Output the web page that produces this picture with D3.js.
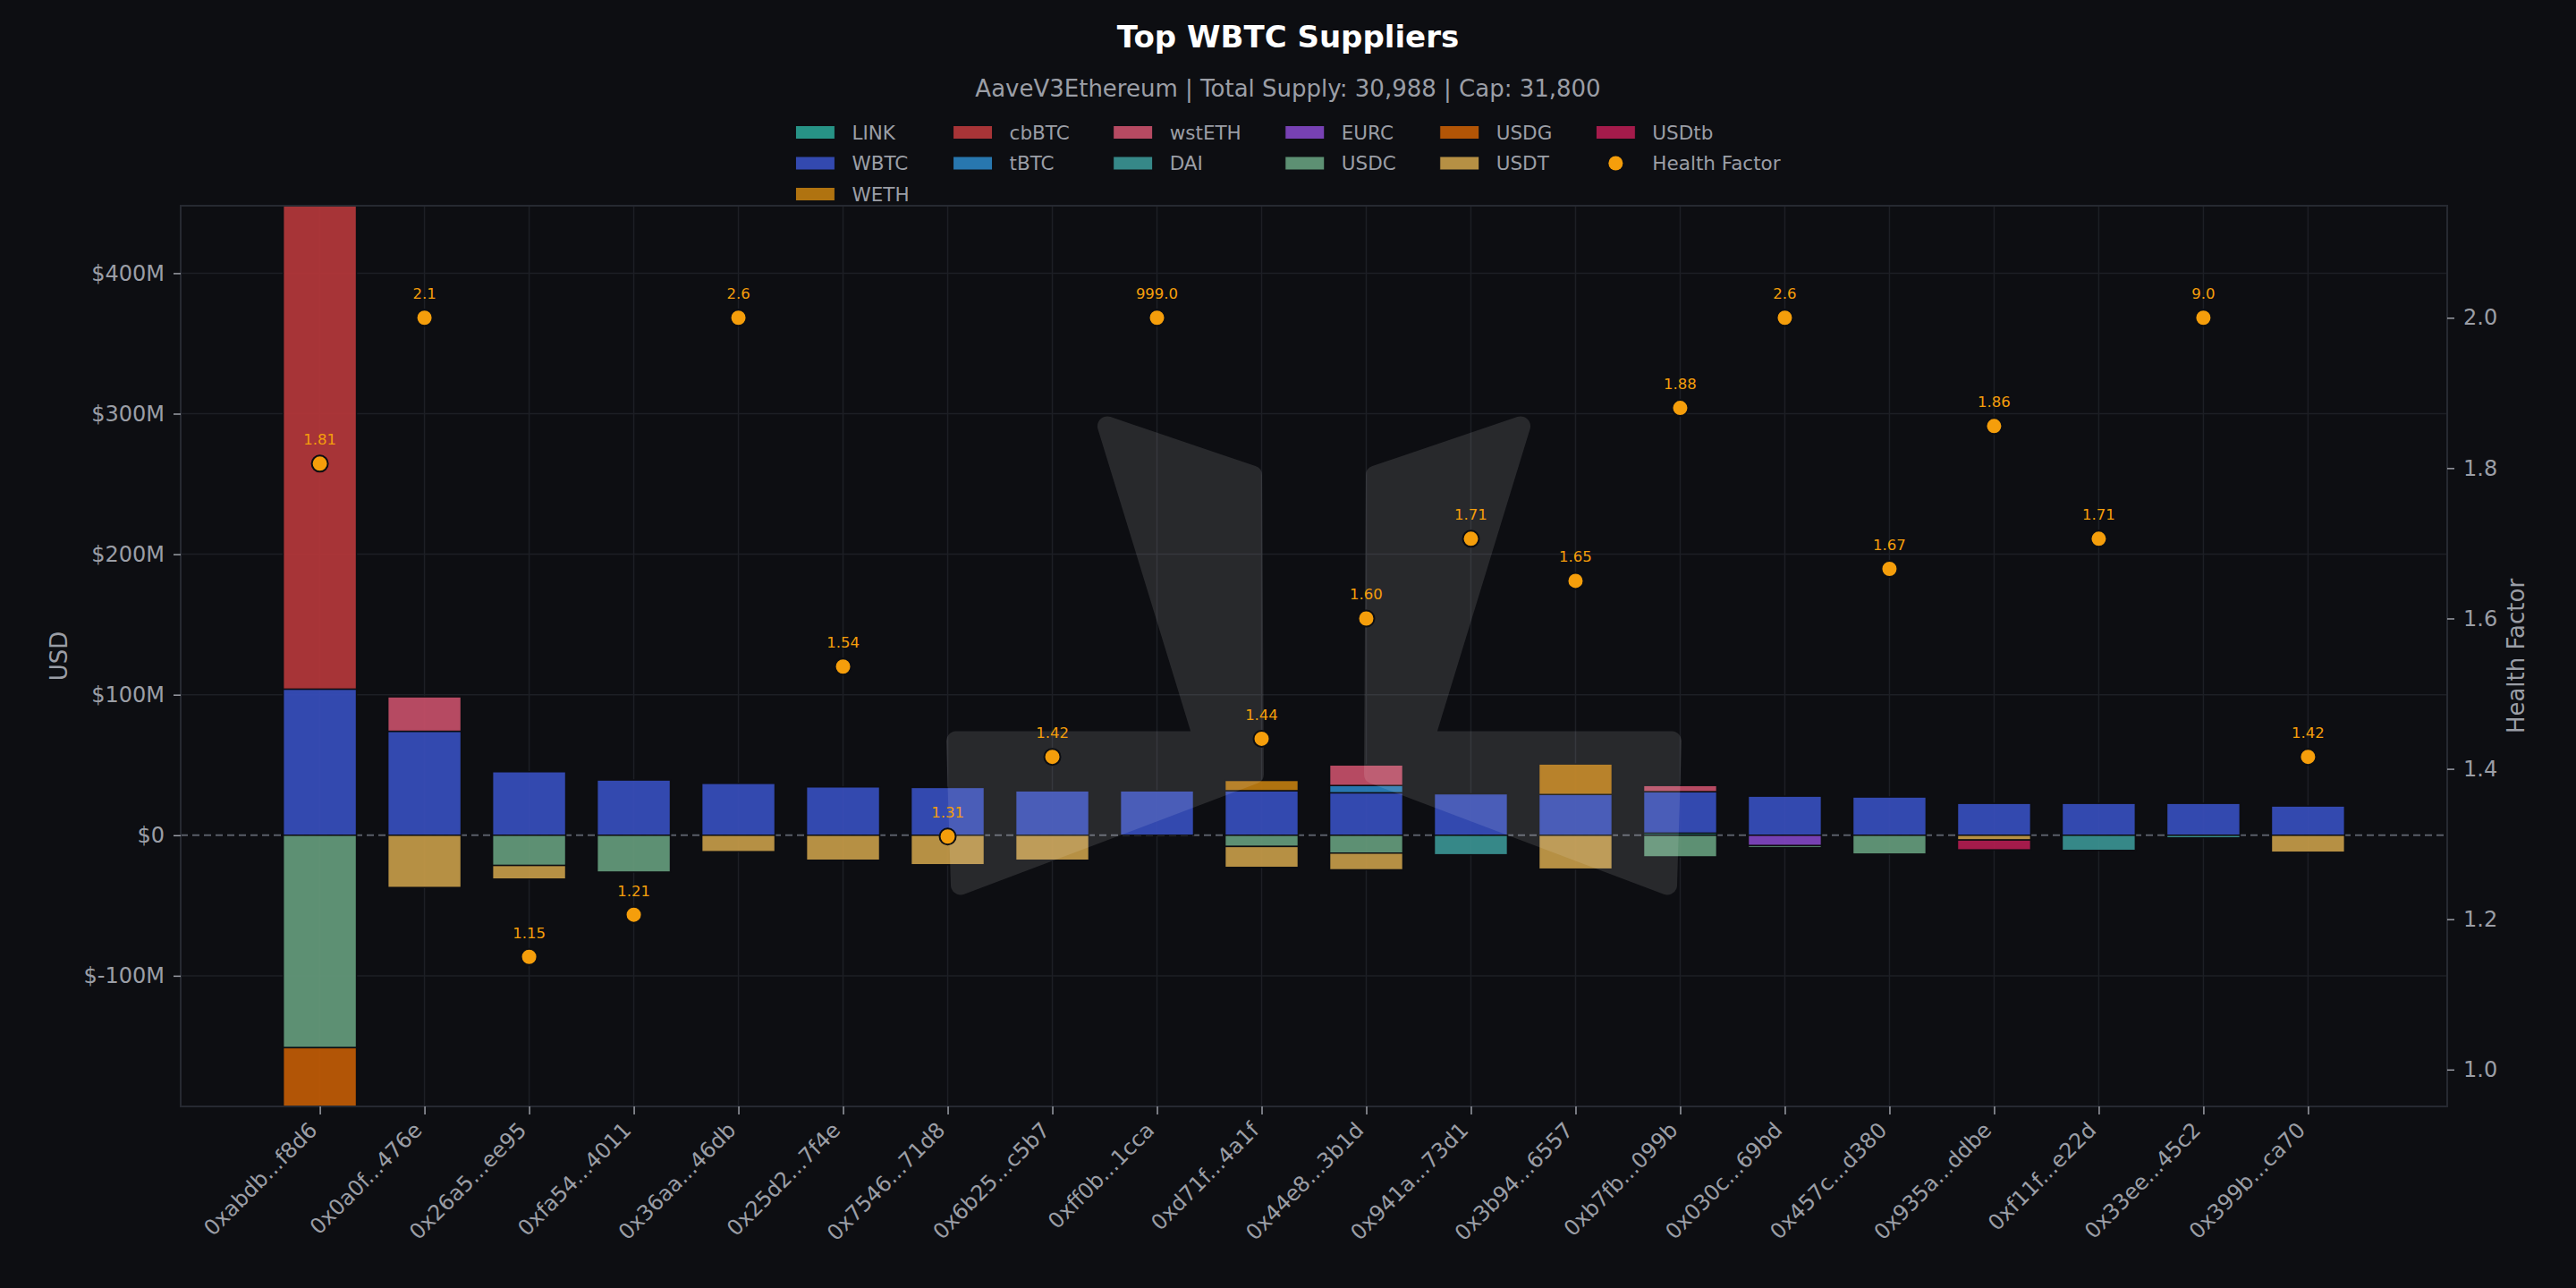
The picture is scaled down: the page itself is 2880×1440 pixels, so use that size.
<!DOCTYPE html>
<html>
<head>
<meta charset="utf-8">
<script src="https://cdn.jsdelivr.net/npm/d3@7"></script>
<style>
  body { margin: 0; background: #0d0e12; }
  text { font-family: "DejaVu Sans", sans-serif; }
</style>
</head>
<body>
<script>
// data (USD in millions, borrows negative)
const suppliers = ["0xabdb...f8d6", "0x0a0f...476e", "0x26a5...ee95", "0xfa54...4011", "0x36aa...46db",
  "0x25d2...7f4e", "0x7546...71d8", "0x6b25...c5b7", "0xff0b...1cca", "0xd71f...4a1f",
  "0x44e8...3b1d", "0x941a...73d1", "0x3b94...6557", "0xb7fb...099b", "0x030c...69bd",
  "0x457c...d380", "0x935a...ddbe", "0xf11f...e22d", "0x33ee...45c2", "0x399b...ca70"]

const assets = ["LINK", "WBTC", "WETH", "cbBTC", "tBTC", "wstETH", "DAI", "EURC", "USDC", "USDG", "USDT", "USDtb"]
const assetColors = ["#2a9d8f", "#374dbb", "#bd7b10", "#b4373a", "#2b7fbb", "#c44f68",
  "#3a9191", "#8045c0", "#649a7b", "#c05a05", "#c49a48", "#b01c50"]

const LINK   = [0, 0, 0, 0, 0, 0, 0, 0, 0, 0, 0, 0, 0, 1.5, 0, 0, 0, 0, 0, 0]
const WBTC   = [104, 74, 45.2, 39.3, 36.9, 34.4, 34, 31.6, 31.6, 31.7, 30.2, 29.5, 29, 29.5, 27.8, 27.2, 22.7, 22.7, 22.7, 20.8]
const WETH   = [0, 0, 0, 0, 0, 0, 0, 0, 0, 7.3, 0, 0, 21.7, 0, 0, 0, 0, 0, 0, 0]
const cbBTC  = [346, 0, 0, 0, 0, 0, 0, 0, 0, 0, 0, 0, 0, 0, 0, 0, 0, 0, 0, 0]
const tBTC   = [0, 0, 0, 0, 0, 0, 0, 0, 0, 0, 5.2, 0, 0, 0, 0, 0, 0, 0, 0, 0]
const wstETH = [0, 24.5, 0, 0, 0, 0, 0, 0, 0, 0, 14.6, 0, 0, 4.4, 0, 0, 0, 0, 0, 0]
const DAI    = [0, 0, 0, 0, 0, 0, 0, 0, 0, 0, 0, -13.9, 0, 0, 0, 0, 0, -10.8, -1.9, 0]
const EURC   = [0, 0, 0, 0, 0, 0, 0, 0, 0, 0, 0, 0, 0, 0, -7.4, 0, 0, 0, 0, 0]
const USDC   = [-151.2, 0, -21.5, -26.2, 0, 0, 0, 0, 0, -8, -12.7, 0, 0, -15.4, -1.5, -13.4, 0, 0, 0, 0]
const USDG   = [-45, 0, 0, 0, 0, 0, 0, 0, 0, 0, 0, 0, 0, 0, 0, 0, 0, 0, 0, 0]
const USDT   = [0, -37.2, -9.7, 0, -11.7, -17.8, -21, -17.8, 0, -14.9, -11.9, 0, -24.1, 0, 0, 0, -3.4, 0, 0, -12.1]
const USDtb  = [0, 0, 0, 0, 0, 0, 0, 0, 0, 0, 0, 0, 0, 0, 0, 0, -7, 0, 0, 0]

const healthFactor = [1.806, 2.1, 1.15, 1.206, 2.6, 1.536, 1.31, 1.416, 999.0, 1.44,
  1.60, 1.706, 1.65, 1.88, 2.6, 1.666, 1.856, 1.706, 9.0, 1.416]
const hfCap = 2.0

const usdTicks = [-100, 0, 100, 200, 300, 400]
const hfTicks = [1.0, 1.2, 1.4, 1.6, 1.8, 2.0]

const seriesValues = {LINK, WBTC, WETH, cbBTC, tBTC, wstETH, DAI, EURC, USDC, USDG, USDT, USDtb}

// layout
const w = 2880
const h = 1440
const plot = {left: 202, right: 2736, top: 230, bottom: 1237}
const bg = "#0d0e12"
const grey = "#9b9ea6"

const rows = suppliers.map((s, i) => {
    const row = {name: s}
    assets.forEach(a => { row[a] = seriesValues[a][i] })
    return row
})
const stacked = d3.stack().keys(assets).offset(d3.stackOffsetDiverging)(rows)

const x = d3.scalePoint().domain(suppliers).range([plot.left, plot.right]).padding(1.33)
const y = d3.scaleLinear().domain([-193, 448]).range([plot.bottom, plot.top])
const yHf = d3.scaleLinear().domain([0.951, 2.149]).range([plot.bottom, plot.top])
const color = d3.scaleOrdinal().domain(assets).range(assetColors)
const barW = x.step() * 0.7

const svg = d3.select("body").append("svg")
    .attr("width", w)
    .attr("height", h)
    .style("background", bg)

svg.append("defs").append("clipPath").attr("id", "clip")
    .append("rect")
    .attr("x", plot.left).attr("y", plot.top)
    .attr("width", plot.right - plot.left).attr("height", plot.bottom - plot.top)

// grid
svg.append("g").selectAll("line")
    .data(usdTicks.filter(t => t !== 0))
    .enter().append("line")
    .attr("x1", plot.left).attr("x2", plot.right)
    .attr("y1", d => y(d)).attr("y2", d => y(d))
    .attr("stroke", "#1d1f25").attr("stroke-width", 1.5)
svg.append("g").selectAll("line")
    .data(suppliers)
    .enter().append("line")
    .attr("x1", d => x(d)).attr("x2", d => x(d))
    .attr("y1", plot.top).attr("y2", plot.bottom)
    .attr("stroke", "#1d1f25").attr("stroke-width", 1.5)

// zero line
svg.append("line")
    .attr("x1", plot.left).attr("x2", plot.right)
    .attr("y1", y(0)).attr("y2", y(0))
    .attr("stroke", "#5a5e68").attr("stroke-width", 2)
    .attr("stroke-dasharray", "8,5")

// bars
const plotG = svg.append("g").attr("clip-path", "url(#clip)")
plotG.selectAll("g.layer")
    .data(stacked)
    .enter().append("g")
    .attr("class", "layer")
    .attr("fill", d => color(d.key))
    .selectAll("rect")
    .data(d => d.filter(p => p[1] - p[0] !== 0))
    .enter().append("rect")
    .attr("x", d => x(d.data.name) - barW / 2)
    .attr("width", barW)
    .attr("y", d => y(Math.max(d[0], d[1])))
    .attr("height", d => Math.abs(y(d[0]) - y(d[1])))
    .attr("fill-opacity", 0.93)
    .attr("stroke", bg)
    .attr("stroke-width", 1.5)

// watermark, centred on the plot
const cx = (plot.left + plot.right) / 2
const cy = (plot.top + plot.bottom) / 2
const markLeft = [[-231, -257], [-69, -202], [-67, 132], [-395, 256], [-400, 95], [-123, 95]]
const markRight = markLeft.map(p => [-p[0], p[1]])
const wm = svg.append("g").attr("opacity", 0.11).attr("transform", `translate(${cx},${cy})`)
wm.selectAll("path")
    .data([markLeft, markRight])
    .enter().append("path")
    .attr("d", d => d3.line()(d) + "Z")
    .attr("fill", "#fff")
    .attr("stroke", "#fff")
    .attr("stroke-width", 22)
    .attr("stroke-linejoin", "round")

// health factor dots
const hfG = svg.append("g")
hfG.selectAll("circle")
    .data(healthFactor)
    .enter().append("circle")
    .attr("cx", (d, i) => x(suppliers[i]))
    .attr("cy", d => yHf(Math.min(d, hfCap)))
    .attr("r", 9)
    .attr("fill", "#f59e0b")
    .attr("stroke", bg)
    .attr("stroke-width", 2)
hfG.selectAll("text")
    .data(healthFactor)
    .enter().append("text")
    .attr("x", (d, i) => x(suppliers[i]))
    .attr("y", d => yHf(Math.min(d, hfCap)) - 21)
    .attr("text-anchor", "middle")
    .attr("fill", "#f59e0b")
    .attr("font-size", 16.5)
    .text(d => d >= 2 ? d.toFixed(1) : d.toFixed(2))

// spines
svg.append("rect")
    .attr("x", plot.left).attr("y", plot.top)
    .attr("width", plot.right - plot.left).attr("height", plot.bottom - plot.top)
    .attr("fill", "none").attr("stroke", "#262931").attr("stroke-width", 2)

// axes
const styleAxis = g => {
    g.select(".domain").remove()
    g.selectAll(".tick line").attr("stroke", grey).attr("stroke-width", 1.5)
    g.selectAll(".tick text").attr("fill", grey).attr("font-size", 24)
        .style("font-family", "'DejaVu Sans', sans-serif")
}
svg.append("g")
    .attr("transform", `translate(${plot.left},0)`)
    .call(d3.axisLeft(y).tickValues(usdTicks).tickSize(8).tickPadding(10)
        .tickFormat(d => "$" + d + (d === 0 ? "" : "M")))
    .call(styleAxis)
svg.append("g")
    .attr("transform", `translate(${plot.right},0)`)
    .call(d3.axisRight(yHf).tickValues(hfTicks).tickSize(8).tickPadding(10)
        .tickFormat(d3.format(".1f")))
    .call(styleAxis)
const xAxis = svg.append("g")
    .attr("transform", `translate(0,${plot.bottom})`)
    .call(d3.axisBottom(x).tickSize(9))
    .call(styleAxis)
xAxis.selectAll(".tick text")
    .attr("font-size", 24)
    .attr("text-anchor", "end")
    .attr("y", 0).attr("dy", 0)
    .attr("transform", "translate(-2,28) rotate(-45)")

svg.append("text")
    .attr("transform", `translate(75,${cy}) rotate(-90)`)
    .attr("text-anchor", "middle")
    .attr("fill", grey).attr("font-size", 26)
    .text("USD")
svg.append("text")
    .attr("transform", `translate(2822,${cy}) rotate(-90)`)
    .attr("text-anchor", "middle")
    .attr("fill", grey).attr("font-size", 26)
    .text("Health Factor")

// title
svg.append("text")
    .attr("x", w / 2).attr("y", 53)
    .attr("text-anchor", "middle")
    .attr("fill", "#ffffff").attr("font-size", 34).attr("font-weight", 700)
    .text("Top WBTC Suppliers")
svg.append("text")
    .attr("x", w / 2).attr("y", 108)
    .attr("text-anchor", "middle")
    .attr("fill", grey).attr("font-size", 26)
    .text("AaveV3Ethereum | Total Supply: 30,988 | Cap: 31,800")

// legend, column-major like matplotlib
const legendItems = assets.map(a => ({label: a, type: "rect"}))
legendItems.push({label: "Health Factor", type: "dot"})
const nCol = 6
const columns = []
let idx = 0
for (let c = 0; c < nCol; c++) {
    const size = Math.floor(legendItems.length / nCol) + (c < legendItems.length % nCol ? 1 : 0)
    columns.push(legendItems.slice(idx, idx + size))
    idx += size
}
const legend = svg.append("g")
const swW = 44, swH = 15, rowGap = 34.5, colGap = 49, textOff = 63
let cxPos = 0
columns.forEach(col => {
    const cg = legend.append("g").attr("transform", `translate(${cxPos},0)`)
    let maxW = 0
    col.forEach((it, r) => {
        const yy = r * rowGap
        if (it.type === "rect") {
            cg.append("rect")
                .attr("x", 0).attr("y", yy - swH / 2)
                .attr("width", swW).attr("height", swH)
                .attr("fill", color(it.label)).attr("fill-opacity", 0.93)
                .attr("stroke", bg).attr("stroke-width", 1)
        } else {
            cg.append("circle")
                .attr("cx", swW / 2).attr("cy", yy)
                .attr("r", 8).attr("fill", "#f59e0b")
        }
        const t = cg.append("text")
            .attr("x", textOff).attr("y", yy)
            .attr("dy", "0.36em")
            .attr("fill", grey).attr("font-size", 21.5)
            .text(it.label)
        maxW = Math.max(maxW, t.node().getComputedTextLength())
    })
    cxPos += textOff + maxW + colGap
})
const legendW = cxPos - colGap
legend.attr("transform", `translate(${w / 2 - legendW / 2},148)`)
</script>
</body>
</html>
